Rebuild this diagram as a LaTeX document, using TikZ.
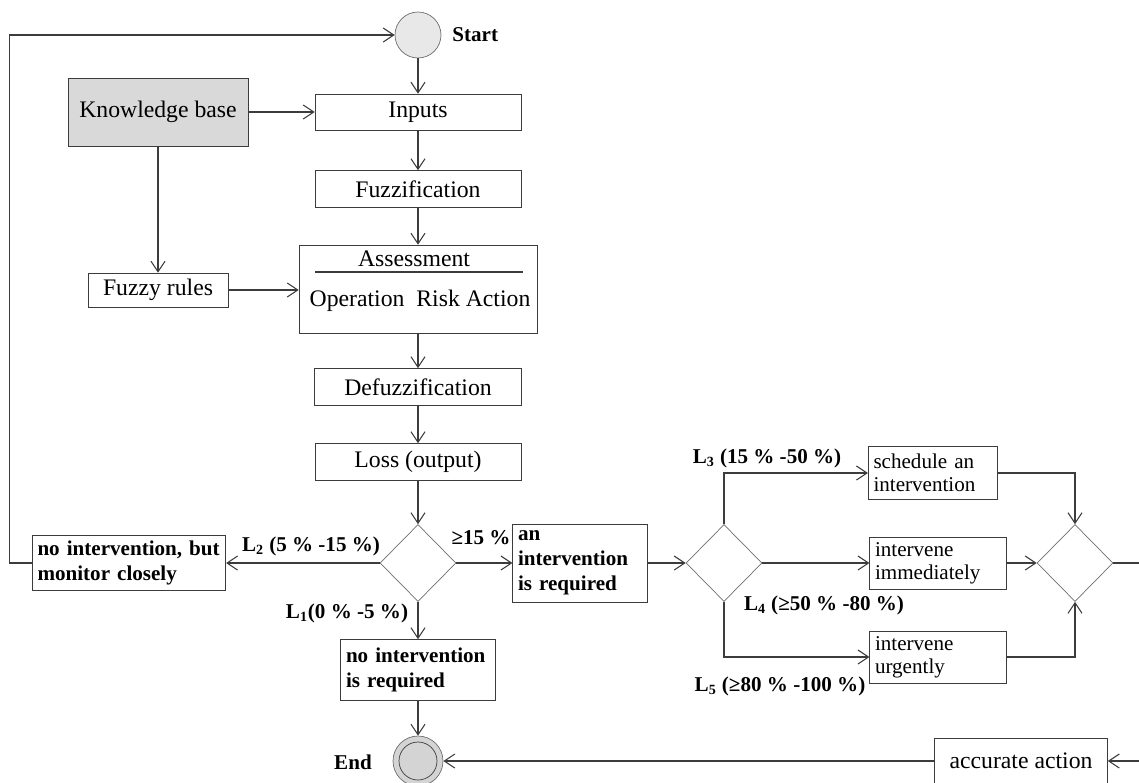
\documentclass[tikz,border=0pt]{standalone}
\usepackage{fontspec}
\setmainfont{Liberation Serif}
\usepackage{tikz}
\usetikzlibrary{shapes.geometric, arrows.meta, positioning}
\definecolor{kbgray}{RGB}{217,217,217}
\definecolor{nodegray}{RGB}{232,232,232}
\definecolor{endgray}{RGB}{212,212,212}
\definecolor{linegray}{RGB}{60,60,60}
\definecolor{diagray}{RGB}{110,110,110}

\tikzset{
  box/.style={draw=linegray, fill=white, inner sep=2pt,
              font=\fontsize{13.5}{16}\selectfont},
  boldbox/.style={draw=linegray, fill=white, inner sep=3pt, align=left,
                  font=\fontsize{12}{14.2}\selectfont\bfseries},
  plainbox/.style={draw=linegray, fill=white, inner sep=3pt, align=left,
                   font=\fontsize{12}{13.2}\selectfont},
  decision/.style={diamond, draw=diagray, minimum width=1.52cm,
                   minimum height=1.54cm, inner sep=0pt},
  lbl/.style={inner sep=0pt, font=\fontsize{12}{14}\selectfont\bfseries},
  flow/.style={draw=linegray, line width=0.6pt,
               -{Straight Barb[length=6pt, width=8pt]}},
  plain/.style={draw=linegray, line width=0.6pt}
}

\begin{document}
\begin{tikzpicture}[x=0.02cm, y=-0.02cm]
    \clip (0,0) rectangle (1139,782);

    \node[circle, draw=diagray, fill=nodegray, minimum size=0.92cm,
          inner sep=0pt] (start) at (418,35) {};
    \node[lbl, anchor=west] (startlbl) at (452,35) {Start};

    \node[box, fill=kbgray, minimum width=3.6cm, minimum height=1.36cm]
      (kb) at (158,112) {Knowledge base};
    \node[box, minimum width=4.12cm, minimum height=0.72cm]
      (inputs) at (418,112) {Inputs};
    \node[box, minimum width=4.12cm, minimum height=0.74cm]
      (fuzz) at (418,189) {Fuzzification};
    \node[box, minimum width=4.76cm, minimum height=1.76cm]
      (assess) at (418,289) {};
    \node[box, draw=none, fill=none, inner sep=0pt]
      (asshead) at (414,259) {Assessment};
    \node[box, draw=none, fill=none, inner sep=0pt]
      (assbody) at (420,301) {Operation\ \ Risk Action};
    \draw[plain] (315,272) -- (523,272);
    \node[box, minimum width=2.8cm, minimum height=0.68cm]
      (rules) at (158,290) {Fuzzy rules};
    \node[box, minimum width=4.14cm, minimum height=0.74cm]
      (defuzz) at (418,387) {Defuzzification};
    \node[box, minimum width=4.12cm, minimum height=0.74cm]
      (loss) at (418,462) {Loss (output)};

    \node[decision] (dia1) at (418,563) {};
    \node[boldbox, text width=3.66cm, minimum height=1.02cm]
      (monitor) at (129,563) {no intervention, but\\monitor closely};
    \node[boldbox, text width=2.48cm, minimum height=1.56cm]
      (req) at (580,563) {an\\intervention\\is required};
    \node[boldbox, text width=2.88cm, minimum height=1.22cm]
      (noint) at (418,670) {no intervention\\is required};
    \node[circle, draw=diagray, fill=endgray, minimum size=1.0cm,
          inner sep=0pt] (endout) at (418,761) {};
    \node[circle, draw=linegray, fill=endgray, minimum size=0.76cm,
          inner sep=0pt] (endin) at (418,761) {};
    \node[lbl] (endlbl) at (353,762) {End};

    \node[decision] (dia2) at (724,563) {};
    \node[plainbox, text width=2.38cm, minimum height=1.06cm]
      (sched) at (933,473) {schedule an\\intervention};
    \node[plainbox, text width=2.52cm, minimum height=0.98cm]
      (immed) at (938,563) {intervene\\immediately};
    \node[plainbox, text width=2.52cm, minimum height=1.0cm]
      (urgent) at (938,657) {intervene\\urgently};
    \node[decision] (dia3) at (1075,563) {};
    \node[box, minimum width=3.46cm, minimum height=0.9cm]
      (acc) at (1021,761) {accurate action};

    \node[lbl] (l2) at (311,546) {L\textsubscript{2} (5 \% -15 \%)};
    \node[lbl] (ge15) at (481,538) {≥15 \%};
    \node[lbl] (l1) at (347,613) {L\textsubscript{1}(0 \% -5 \%)};
    \node[lbl] (l3) at (767,458) {L\textsubscript{3} (15 \% -50 \%)};
    \node[lbl] (l4) at (824,605) {L\textsubscript{4} (≥50 \% -80 \%)};
    \node[lbl] (l5) at (780,686) {L\textsubscript{5} (≥80 \% -100 \%)};

    \draw[flow] (start) -- (inputs);
    \draw[flow] (kb) -- (inputs);
    \draw[flow] (inputs) -- (fuzz);
    \draw[flow] (fuzz) -- (assess);
    \draw[flow] (kb) -- (rules);
    \draw[flow] (rules.east) -- (rules.east -| assess.west);
    \draw[flow] (assess) -- (defuzz);
    \draw[flow] (defuzz) -- (loss);
    \draw[flow] (loss) -- (dia1);
    \draw[flow] (dia1) -- (monitor);
    \draw[flow] (dia1) -- (req);
    \draw[flow] (dia1) -- (noint);
    \draw[flow] (noint) -- (endout);
    \draw[flow] (monitor.west) -- ++(-22,0) |- (start.west);
    \draw[flow] (req) -- (dia2);
    \draw[flow] (dia2.north) |- (sched.west);
    \draw[flow] (dia2) -- (immed);
    \draw[flow] (dia2.south) |- (urgent.west);
    \draw[flow] (sched.east) -| (dia3.north);
    \draw[flow] (immed) -- (dia3);
    \draw[flow] (urgent.east) -| (dia3.south);
    \draw[flow] (dia3.east) -- ++(40,0) |- (acc.east);
    \draw[flow] (acc) -- (endout);
  \end{tikzpicture}
\end{document}
